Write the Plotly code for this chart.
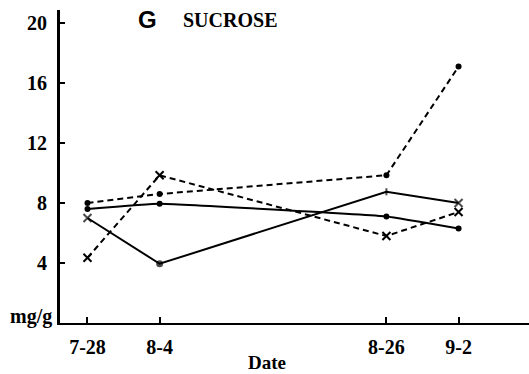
import plotly.graph_objects as go

dates = ["2000-07-28", "2000-08-04", "2000-08-26", "2000-09-02"]
tick_labels = ["7-28", "8-4", "8-26", "9-2"]

dash_dot = [8.0, 8.6, 9.85, 17.1]
dash_x = [4.35, 9.85, 5.8, 7.4]
solid_dot = [7.6, 7.95, 7.1, 6.3]
solid_x = [7.0, 3.95, 8.75, 8.0]

y_ticks = [4, 8, 12, 16, 20]

FONT = "Liberation Serif, Times New Roman, DejaVu Serif, serif"
fig = go.Figure()

fig.add_trace(go.Scatter(x=dates, y=dash_dot, mode="lines+markers",
                         line=dict(color="black", width=2, dash="6px,4px"),
                         marker=dict(symbol="circle", size=6, color="black")))
fig.add_trace(go.Scatter(x=dates, y=dash_x, mode="lines+markers",
                         line=dict(color="black", width=2, dash="6px,4px"),
                         marker=dict(symbol="x-thin", size=8, color="black",
                                     line=dict(color="black", width=2))))
fig.add_trace(go.Scatter(x=dates, y=solid_dot, mode="lines+markers",
                         line=dict(color="black", width=2, shape="spline", smoothing=0.25),
                         marker=dict(symbol="circle", size=6, color="black")))
fig.add_trace(go.Scatter(x=dates, y=solid_x, mode="lines+markers",
                         line=dict(color="black", width=2),
                         marker=dict(symbol=["x-thin", "circle", "line-ns", "x-thin"],
                                     size=[8, 5, 5, 8], color="black",
                                     line=dict(color="black", width=2))))

fig.update_layout(
    width=529, height=374,
    margin=dict(l=60, r=0, t=10, b=51),
    plot_bgcolor="white", paper_bgcolor="white",
    showlegend=False,
    font=dict(family=FONT, size=20, color="black"),
    xaxis=dict(
        type="date",
        range=["2000-07-25 08:00", "2000-09-08 20:00"],
        tickvals=dates, ticktext=["<b>%s</b>" % t for t in tick_labels],
        ticks="inside", ticklen=6, tickwidth=2, tickcolor="black",
        showgrid=False, zeroline=False,
        showline=True, linecolor="black", linewidth=2,
        tickfont=dict(family=FONT, size=20, color="black"),
        ticklabelstandoff=5,
    ),
    yaxis=dict(
        range=[0, 20.87],
        tickvals=y_ticks, ticktext=["<b>%d</b>" % v for v in y_ticks],
        ticks="inside", ticklen=5, tickwidth=2, tickcolor="black",
        showgrid=False, zeroline=False,
        showline=True, linecolor="black", linewidth=3,
        tickfont=dict(family=FONT, size=20, color="black"),
        ticklabelstandoff=6,
    ),
    annotations=[
        dict(text="<b>mg/g</b>", xref="paper", yref="y", x=0, y=0,
             xanchor="right", yanchor="middle", xshift=-6, yshift=7,
             showarrow=False, font=dict(family=FONT, size=20)),
        dict(text="<b>Date</b>", xref="paper", yref="paper", x=(267 - 60) / 469, y=-(363 - 323) / 313,
             xanchor="center", yanchor="middle", showarrow=False,
             font=dict(family=FONT, size=19)),
        dict(text="<b>G</b>", xref="paper", yref="paper", x=(147 - 60) / 469, y=(323 - 19) / 313,
             xanchor="center", yanchor="middle", showarrow=False,
             font=dict(family="Liberation Sans, Arial, sans-serif", size=24)),
        dict(text="<b>SUCROSE</b>", xref="paper", yref="paper", x=(181 - 60) / 469, y=(323 - 20) / 313,
             xanchor="left", yanchor="middle", showarrow=False,
             font=dict(family=FONT, size=20)),
    ],
)

fig.write_html("out.html")
